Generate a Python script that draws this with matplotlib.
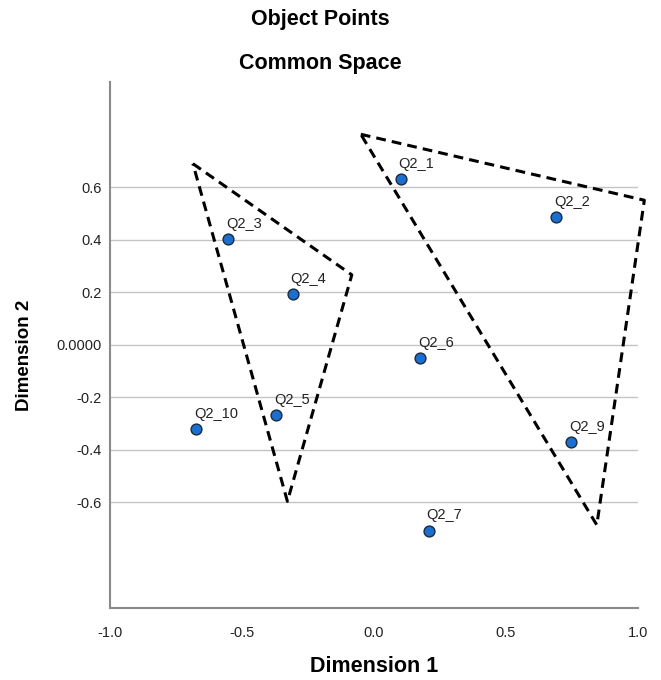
import matplotlib
matplotlib.use("Agg")
import matplotlib.pyplot as plt

plt.rcParams['font.family'] = ['Liberation Sans', 'DejaVu Sans']

# object points (dimension 1, dimension 2)
labels = ["Q2_1", "Q2_2", "Q2_3", "Q2_4", "Q2_6", "Q2_5", "Q2_10", "Q2_9", "Q2_7"]
dim1 = [0.101, 0.691, -0.552, -0.308, 0.175, -0.371, -0.673, 0.746, 0.207]
dim2 = [0.631, 0.487, 0.402, 0.193, -0.052, -0.266, -0.321, -0.370, -0.707]

# hand drawn grouping triangles
left_tri_x = [-0.686, -0.084, -0.328, -0.686]
left_tri_y = [0.689, 0.266, -0.596, 0.689]
right_tri_x = [-0.050, 1.024, 0.844, -0.050]
right_tri_y = [0.801, 0.550, -0.686, 0.801]

xticks = [-1.0, -0.5, 0.0, 0.5, 1.0]
xticklabels = ["-1.0", "-0.5", "0.0", "0.5", "1.0"]
yticks = [0.6, 0.4, 0.2, 0.0, -0.2, -0.4, -0.6]
yticklabels = ["0.6", "0.4", "0.2", "0.0000", "-0.2", "-0.4", "-0.6"]

fig = plt.figure(figsize=(6.61, 6.80), dpi=100)
ax = fig.add_axes([110 / 661, 1 - 607.5 / 680, 528 / 661, 525.5 / 680])

ax.set_xlim(-1.0, 1.0)
ax.set_ylim(-1.0, 1.0)

for y in yticks:
    ax.axhline(y, color="#c4c4c4", lw=1.0, zorder=1)

ax.plot(left_tri_x, left_tri_y, color="black", lw=2.2, ls=(0, (3.2, 2.0)),
        clip_on=False, zorder=2)
ax.plot(right_tri_x, right_tri_y, color="black", lw=2.2, ls=(0, (3.2, 2.0)),
        clip_on=False, zorder=2)

ax.plot(dim1, dim2, ls="none", marker="o", ms=7.8, mfc="#1a6fd0",
        mec="#1b2b3e", mew=1.0, zorder=3)
for lab, x, y in zip(labels, dim1, dim2):
    ax.annotate(lab, (x, y), xytext=(-1.5, 8), textcoords="offset points",
                ha="left", va="baseline", fontsize=10.5, color="#222222")

ax.set_xticks(xticks)
ax.set_xticklabels(xticklabels)
ax.set_yticks(yticks)
ax.set_yticklabels(yticklabels)
ax.tick_params(length=0, labelsize=10.5, labelcolor="#222222")
ax.tick_params(axis="x", pad=13)
ax.tick_params(axis="y", pad=6)

for side in ["top", "right"]:
    ax.spines[side].set_visible(False)
for side in ["left", "bottom"]:
    ax.spines[side].set_color("#8a8a8a")
    ax.spines[side].set_linewidth(1.5)

fig.text(320 / 661, 1 - 19 / 680, "Object Points", ha="center", va="center",
         fontsize=15.5, fontweight="bold")
fig.text(320 / 661, 1 - 63 / 680, "Common Space", ha="center", va="center",
         fontsize=15.5, fontweight="bold")
fig.text(374 / 661, 1 - 666 / 680, "Dimension 1", ha="center", va="center",
         fontsize=15.5, fontweight="bold")
fig.text(25 / 661, 1 - 355 / 680, "Dimension 2", ha="center", va="center",
         rotation=90, fontsize=13.5, fontweight="bold")

fig.savefig("out.png", dpi=100, facecolor="white")
